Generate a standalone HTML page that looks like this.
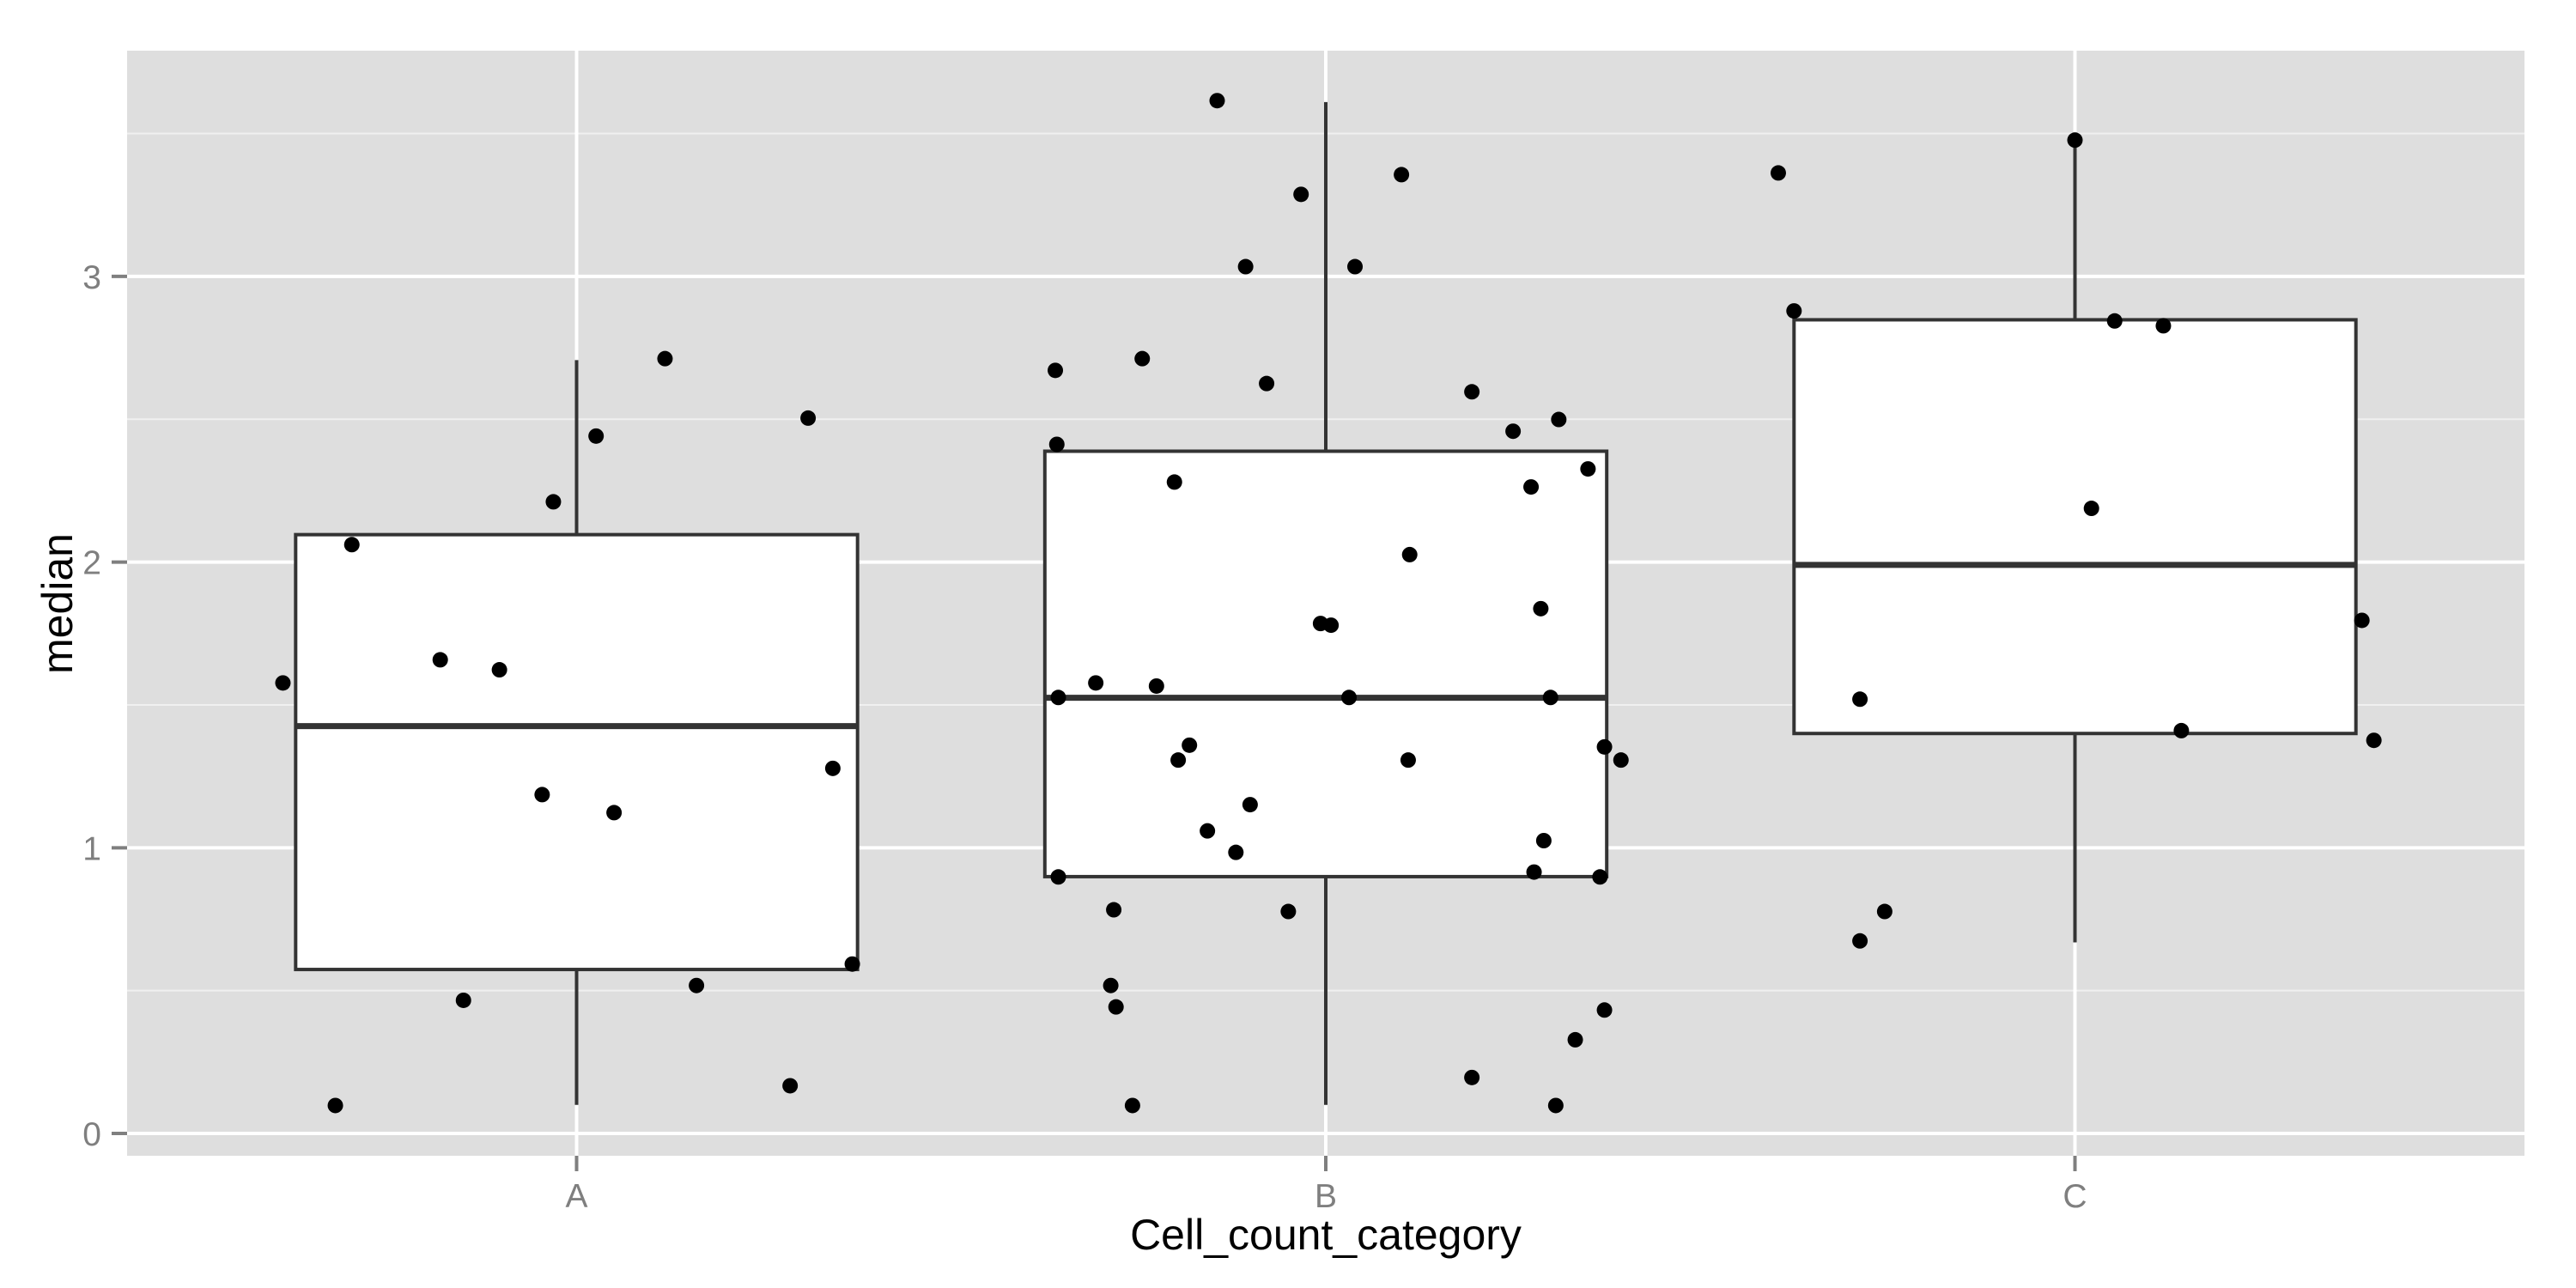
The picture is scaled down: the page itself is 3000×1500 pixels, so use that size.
<!DOCTYPE html>
<html><head><meta charset="utf-8"><style>body{margin:0;background:#fff}svg{display:block}</style></head>
<body>
<svg id="chart" width="3000" height="1500" xmlns="http://www.w3.org/2000/svg"></svg>
<script>
const categories = ["A","B","C"];
const q1 = [0.574, 0.899, 1.40];
const med = [1.426, 1.525, 1.99];
const q3 = [2.096, 2.388, 2.848];
const wLo = [0.10, 0.10, 0.669];
const wHi = [2.707, 3.61, 3.475];
const yTicks = [0,1,2,3];
const ptCat = [
0,0,0,0,0,0,0,0,0,0,0,0,0,0,0,0,
1,1,1,1,1,1,1,1,1,1,1,1,1,1,1,1,1,1,1,1,1,1,1,1,1,1,1,1,1,1,1,1,1,1,1,1,1,1,1,1,1,1,1,1,1,
2,2,2,2,2,2,2,2,2,2,2,2];
const ptJitter = [
-0.392,-0.322,-0.300,-0.182,-0.151,-0.103,-0.046,-0.031,0.026,0.050,0.118,0.160,0.285,0.309,0.342,0.368,
-0.361,-0.359,-0.357,-0.357,-0.307,-0.283,-0.287,-0.280,-0.258,-0.245,-0.226,-0.202,-0.197,-0.182,-0.158,-0.145,-0.120,-0.107,-0.101,-0.079,-0.050,-0.033,-0.007,0.007,0.031,0.039,0.101,0.110,0.112,0.195,0.195,0.250,0.274,0.278,0.287,0.291,0.300,0.307,0.311,0.333,0.350,0.366,0.372,0.372,0.394,
-0.396,-0.375,-0.287,-0.287,-0.254,0,0.022,0.053,0.118,0.142,0.383,0.399];
const ptValue = [
1.577,0.098,2.061,1.658,0.466,1.623,1.186,2.211,2.441,1.123,2.712,0.518,0.167,2.504,1.278,0.593,
2.671,2.412,1.526,0.898,1.577,0.783,0.518,0.443,0.098,2.712,1.566,2.280,1.307,1.359,1.059,3.615,0.984,3.034,1.151,2.625,0.777,3.287,1.785,1.779,1.526,3.034,3.356,1.307,2.026,2.596,0.196,2.458,2.263,0.915,1.837,1.025,1.526,0.098,2.499,0.328,2.326,0.898,0.432,1.353,1.307,
3.362,2.879,1.520,0.674,0.777,3.477,2.188,2.844,2.827,1.410,1.796,1.376];

const NS="http://www.w3.org/2000/svg";
const svg=document.getElementById('chart');
const PL=148,PR=2940,PT=59,PB=1346;
const yMin=-0.078,yMax=3.79;
const sy=v=>PB-(v-yMin)/(yMax-yMin)*(PB-PT);
const step=(PR-PL)/(categories.length-1+1.2);
const sx=c=>PL+(c+0.6)*step;
function el(t,a,p){const e=document.createElementNS(NS,t);for(const k in a)e.setAttribute(k,a[k]);(p||svg).appendChild(e);return e;}

const bg=el('rect',{x:PL,y:PT,width:PR-PL,height:PB-PT,fill:'#dedede'});


for(let i=0;i<yTicks.length;i++){
  const m=yTicks[i]+0.5;
  if(m<yMax){const g=el('line',{x1:PL,x2:PR,y1:sy(m),y2:sy(m),stroke:'#f0f0f0','stroke-width':2});
  
  }
}
yTicks.forEach(t=>{
  const g=el('line',{x1:PL,x2:PR,y1:sy(t),y2:sy(t),stroke:'#fff','stroke-width':4});
  
  
  const tk=el('line',{x1:130,x2:PL,y1:sy(t),y2:sy(t),stroke:'#7f7f7f','stroke-width':4});
  
  
  const tx=el('text',{x:118,y:sy(t)+14,'text-anchor':'end','font-size':39,fill:'#7f7f7f','font-family':'Liberation Sans, sans-serif'});
  tx.textContent=t;
  
  
});
categories.forEach((c,i)=>{
  const x=sx(i);
  const g=el('line',{x1:x,x2:x,y1:PT,y2:PB,stroke:'#fff','stroke-width':4});
  
  
  const tk=el('line',{x1:x,x2:x,y1:PB,y2:PB+18,stroke:'#7f7f7f','stroke-width':4});
  
  
  const tx=el('text',{x:x,y:PB+60,'text-anchor':'middle','font-size':39,fill:'#7f7f7f','font-family':'Liberation Sans, sans-serif'});
  tx.textContent=c;
  
  
});
categories.forEach((c,i)=>{
  const x=sx(i),hw=step*0.375;
  const g=el('g',{});
  
  
  el('line',{x1:x,x2:x,y1:sy(wHi[i]),y2:sy(q3[i]),stroke:'#333','stroke-width':4},g);
  el('line',{x1:x,x2:x,y1:sy(q1[i]),y2:sy(wLo[i]),stroke:'#333','stroke-width':4},g);
  el('rect',{x:x-hw,y:sy(q3[i]),width:2*hw,height:sy(q1[i])-sy(q3[i]),fill:'#fff',stroke:'#333','stroke-width':4},g);
  el('line',{x1:x-hw,x2:x+hw,y1:sy(med[i]),y2:sy(med[i]),stroke:'#333','stroke-width':7},g);
});
ptValue.forEach((v,k)=>{
  const p=el('circle',{cx:sx(ptCat[k])+ptJitter[k]*step,cy:sy(v),r:9,fill:'#000'});
  
  
});
const xt=el('text',{x:(PL+PR)/2,y:1455,'text-anchor':'middle','font-size':50,fill:'#000','font-family':'Liberation Sans, sans-serif'});
xt.textContent='Cell_count_category';


const yt=el('text',{x:0,y:0,'text-anchor':'middle','font-size':50,fill:'#000','font-family':'Liberation Sans, sans-serif',transform:'translate(84,703) rotate(-90)'});
yt.textContent='median';


</script>
</body></html>
